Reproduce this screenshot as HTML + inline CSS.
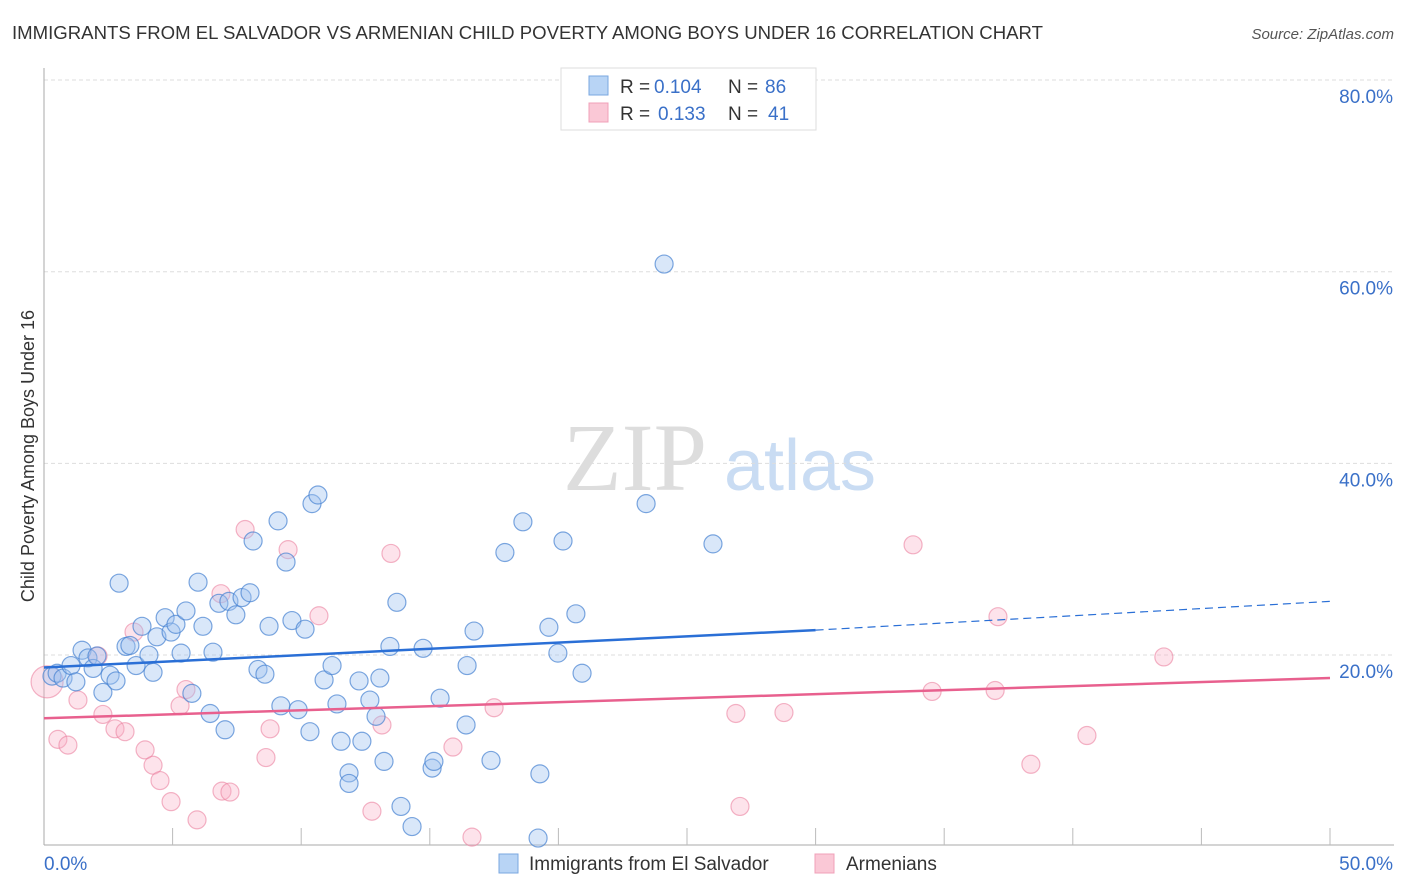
<!DOCTYPE html>
<html><head><meta charset="utf-8">
<style>
body{margin:0;background:#fff;font-family:"Liberation Sans",sans-serif;}
#wrap{position:relative;width:1406px;height:892px;overflow:hidden;}
</style></head>
<body>
<div id="wrap">
<svg id="svg" width="1406" height="892" xmlns="http://www.w3.org/2000/svg">
<text x="12" y="39" font-size="18" fill="#333" textLength="1031" lengthAdjust="spacingAndGlyphs">IMMIGRANTS FROM EL SALVADOR VS ARMENIAN CHILD POVERTY AMONG BOYS UNDER 16 CORRELATION CHART</text>
<text x="1394" y="39" font-size="15" fill="#555" font-style="italic" text-anchor="end">Source: ZipAtlas.com</text>
<text x="34" y="456" font-size="18" fill="#333" text-anchor="middle" transform="rotate(-90 34 456)">Child Poverty Among Boys Under 16</text>
<g><text x="635" y="490" font-size="96" fill="#ddd" font-family="Liberation Serif" text-anchor="middle">ZIP</text><text x="800" y="490" font-size="72" fill="#c9dcf3" text-anchor="middle">atlas</text></g>
<g id="grid"></g><g id="axes"></g><g id="marks"></g>
<g>
<rect x="561" y="68" width="255" height="62" fill="#fff" stroke="#ddd"/>
<rect x="589" y="76" width="19" height="19" fill="#b8d4f5" stroke="#7aa7e0"/>
<rect x="589" y="103" width="19" height="19" fill="#fac8d6" stroke="#f0a0b8"/>
<text x="620" y="93" font-size="19" fill="#333">R =</text><text x="654" y="93" font-size="19" fill="#3a70c8">0.104</text>
<text x="728" y="93" font-size="19" fill="#333">N =</text><text x="765" y="93" font-size="19" fill="#3a70c8">86</text>
<text x="620" y="120" font-size="19" fill="#333">R =</text><text x="658" y="120" font-size="19" fill="#3a70c8">0.133</text>
<text x="728" y="120" font-size="19" fill="#333">N =</text><text x="768" y="120" font-size="19" fill="#3a70c8">41</text>
</g>
<g>
<rect x="499" y="854" width="19" height="19" fill="#b8d4f5" stroke="#7aa7e0"/>
<text x="529" y="870" font-size="19" fill="#333">Immigrants from El Salvador</text>
<rect x="815" y="854" width="19" height="19" fill="#fac8d6" stroke="#f0a0b8"/>
<text x="846" y="870" font-size="19" fill="#333">Armenians</text>
</g>
</svg>
</div>
<script>
const xTicks=[0,5,10,15,20,25,30,35,40,45,50];
const yTicks=[20,40,60,80];
const yTickLabels=["20.0%","40.0%","60.0%","80.0%"];
const blueX=[0.31,0.51,0.74,1.05,1.24,1.48,1.71,1.91,2.06,2.29,2.57,2.8,2.92,3.19,3.34,3.58,3.81,4.08,4.24,4.39,4.71,4.94,5.13,5.33,5.52,5.75,5.99,6.18,6.46,6.57,6.8,7.04,7.19,7.46,7.7,8.01,8.13,8.32,8.59,8.75,9.1,9.21,9.41,9.64,9.88,10.15,10.34,10.42,10.65,10.89,11.2,11.39,11.55,11.86,11.86,12.25,12.36,12.67,12.91,13.06,13.22,13.45,13.72,13.88,14.31,14.74,15.09,15.16,15.4,16.41,16.45,16.72,17.38,17.92,18.62,19.21,19.28,19.63,19.98,20.18,20.68,20.92,23.41,24.11,26.01];
const blueY=[17.8,18.1,17.6,18.9,17.2,20.5,19.7,18.6,19.9,16.1,17.9,17.3,27.5,20.9,21.0,18.9,23.0,20.0,18.2,21.9,23.9,22.4,23.2,20.2,24.6,16.0,27.6,23.0,13.9,20.3,25.4,12.2,25.6,24.2,26.0,26.5,31.9,18.5,18.0,23.0,34.0,14.7,29.7,23.6,14.3,22.7,12.0,35.8,36.7,17.4,18.9,14.9,11.0,7.7,6.6,17.3,11.0,15.3,13.6,17.6,8.9,20.9,25.5,4.2,2.1,20.7,8.2,8.9,15.5,12.7,18.9,22.5,9.0,30.7,33.9,0.9,7.6,22.9,20.2,31.9,24.3,18.1,35.8,60.8,31.6];
const pinkX=[0.12,0.54,0.93,1.32,2.1,2.29,2.76,3.15,3.5,3.93,4.24,4.51,4.94,5.29,5.52,5.95,6.88,6.92,7.23,7.82,8.63,8.79,9.49,10.69,12.75,13.14,13.49,15.9,16.64,17.5,26.9,27.06,28.77,33.79,34.53,36.98,37.09,38.37,40.55,43.54];
const pinkY=[17.2,11.2,10.6,15.3,19.9,13.8,12.3,12.0,22.4,10.1,8.5,6.9,4.7,14.7,16.4,2.8,26.4,5.8,5.7,33.1,9.3,12.3,31.0,24.1,3.7,12.7,30.6,10.4,1.0,14.5,13.9,4.2,14.0,31.5,16.2,16.3,24.0,8.6,11.6,19.8];
const pinkR=[16,9,9,9,9,9,9,9,9,9,9,9,9,9,9,9,9,9,9,9,9,9,9,9,9,9,9,9,9,9,9,9,9,9,9,9,9,9,9,9];
const blueTrend=[18.7,22.6,25.6]; // at x=0, 30, 50
const pinkTrend=[13.4,17.6]; // at x=0, 50
const sx=v=>44+v*25.72;
const sy=v=>846.7-v*9.583;
const NS="http://www.w3.org/2000/svg";
function mk(tag,attrs,parent){const e=document.createElementNS(NS,tag);for(const k in attrs)e.setAttribute(k,attrs[k]);document.getElementById(parent).appendChild(e);return e;}
yTicks.forEach((t,i)=>{
 const g=mk('line',{x1:44,x2:1394,y1:sy(t),y2:sy(t),stroke:'#ddd','stroke-dasharray':'4,3'},'grid');
 
 
 const l=mk('text',{x:1393,y:sy(t)+23,'font-size':19,fill:'#3a70c8','text-anchor':'end'},'axes');
 l.textContent=yTickLabels[i];
 
 
});
let ax=mk('line',{x1:44,x2:44,y1:68,y2:845,stroke:'#aaa'},'axes');


ax=mk('line',{x1:44,x2:1394,y1:845,y2:845,stroke:'#aaa'},'axes');


xTicks.slice(1).forEach(t=>{
 const e=mk('line',{x1:sx(t),x2:sx(t),y1:828,y2:845,stroke:'#bbb'},'axes');
 
 
});
let tl=mk('text',{x:44,y:870,'font-size':19,fill:'#3a70c8'},'axes');tl.textContent='0.0%';


tl=mk('text',{x:1393,y:870,'font-size':19,fill:'#3a70c8','text-anchor':'end'},'axes');tl.textContent='50.0%';


pinkX.forEach((x,i)=>{
 const c=mk('circle',{cx:sx(x),cy:sy(pinkY[i]),r:pinkR[i],fill:'rgba(248,175,198,0.35)',stroke:'rgba(235,130,160,0.6)','stroke-width':1.2},'marks');
 
 
});
blueX.forEach((x,i)=>{
 const c=mk('circle',{cx:sx(x),cy:sy(blueY[i]),r:9,fill:'rgba(160,195,240,0.4)',stroke:'rgba(70,130,210,0.7)','stroke-width':1.2},'marks');
 
 
});
let t=mk('line',{x1:sx(0),y1:sy(blueTrend[0]),x2:sx(30),y2:sy(blueTrend[1]),stroke:'#2a6fd6','stroke-width':2.5},'marks');


t=mk('line',{x1:sx(30),y1:sy(blueTrend[1]),x2:sx(50),y2:sy(blueTrend[2]),stroke:'#2a6fd6','stroke-width':1.2,'stroke-dasharray':'8,5'},'marks');


t=mk('line',{x1:sx(0),y1:sy(pinkTrend[0]),x2:sx(50),y2:sy(pinkTrend[1]),stroke:'#e8608e','stroke-width':2.5},'marks');


</script>
</body></html>
